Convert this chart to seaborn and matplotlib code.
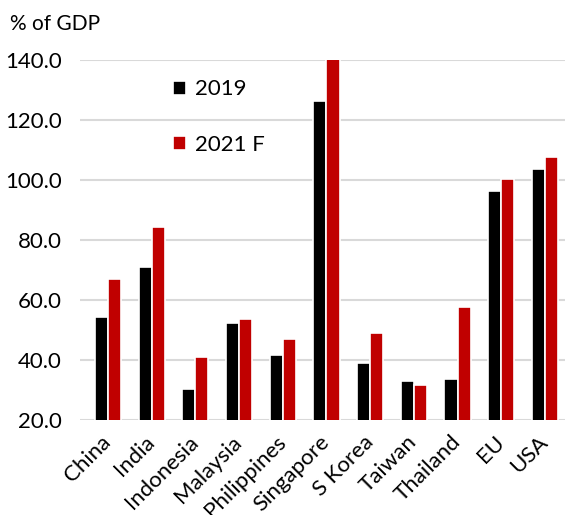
import matplotlib
matplotlib.use("Agg")
import matplotlib.pyplot as plt
import seaborn as sns
import pandas as pd

countries = ["China", "India", "Indonesia", "Malaysia", "Philippines", "Singapore",
             "S Korea", "Taiwan", "Thailand", "EU", "USA"]
vals_2019 = [54.3, 70.8, 30.3, 52.3, 41.6, 126.1, 39.0, 33.0, 33.6, 96.2, 103.5]
vals_2021 = [66.8, 84.2, 41.0, 53.6, 46.8, 142.0, 48.9, 31.6, 57.5, 100.2, 107.5]
series = ["2019", "2021 F"]
yticks = [20, 40, 60, 80, 100, 120, 140]

df = pd.DataFrame({
    "country": countries * 2,
    "value": vals_2019 + vals_2021,
    "series": [series[0]] * len(countries) + [series[1]] * len(countries),
})

sns.set_theme(style="white")
plt.rcParams["font.family"] = ["Lato", "DejaVu Sans"]
plt.rcParams["text.color"] = "black"
plt.rcParams["xtick.color"] = "black"
plt.rcParams["ytick.color"] = "black"

fig = plt.figure(figsize=(5.65, 5.15), dpi=100)
ax = fig.add_axes([80 / 565, 1 - 419.5 / 515, 485 / 565, 360 / 515])

sns.barplot(data=df, x="country", y="value", hue="series", order=countries,
            hue_order=series, palette=["#000000", "#C00000"], width=0.6,
            saturation=1, edgecolor="white", linewidth=1.2, ax=ax, zorder=3)

ax.set_ylim(20, 140)
ax.set_xlim(-0.64, 10.46)
ax.set_yticks(yticks)
ax.set_yticklabels([f"{v:.1f}" for v in yticks], fontsize=16, color="black")
ax.yaxis.grid(True, color="#D9D9D9", linewidth=1.5, zorder=0)
ax.set_axisbelow(True)
for s in ax.spines.values():
    s.set_visible(False)
ax.tick_params(axis="both", length=0)
ax.tick_params(axis="y", pad=13)
ax.tick_params(axis="x", pad=14)
ax.set_xlabel("")
ax.set_ylabel("")
for lab in ax.get_xticklabels():
    lab.set_rotation(45)
    lab.set_ha("right")
    lab.set_va("center")
    lab.set_rotation_mode("anchor")
    lab.set_fontsize(16)
    lab.set_color("black")

leg = ax.legend(loc="upper left", bbox_to_anchor=(0.15, 1.0), frameon=False,
                fontsize=16, labelspacing=1.6, handlelength=0.6, handleheight=0.6,
                handletextpad=0.4)
for t in leg.get_texts():
    t.set_color("#000000")

fig.text(10 / 565, 1 - 24 / 515, "% of GDP", fontsize=15, va="center", ha="left")

fig.savefig("out.png", dpi=100)
